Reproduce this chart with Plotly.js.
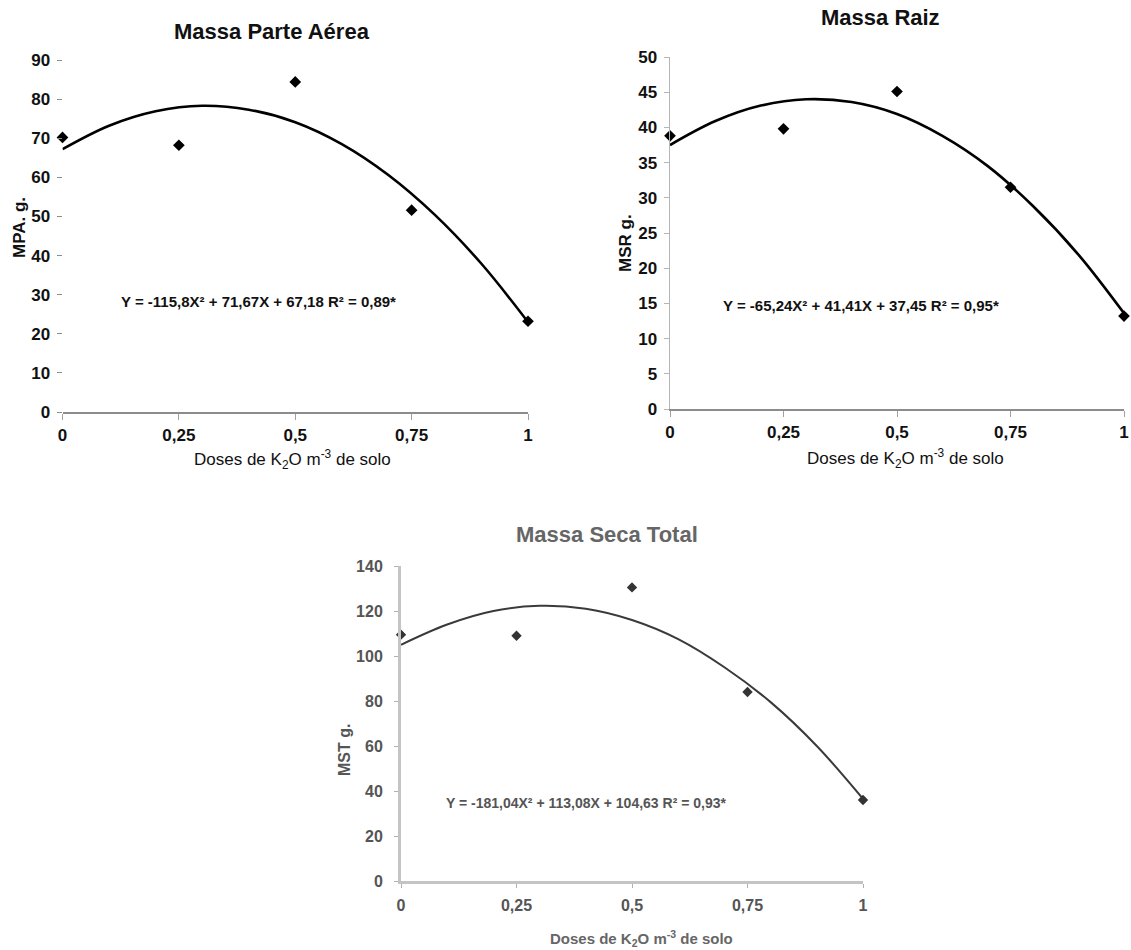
<!DOCTYPE html>
<html>
<head>
<meta charset="utf-8">
<script src="https://cdn.plot.ly/plotly-3.0.1.min.js"></script>
<style>
html,body{margin:0;padding:0;background:#fff;}
#chart{width:1131px;height:950px;}
</style>
</head>
<body>
<div id="chart"></div>
<script>
// ---- data ----
const doses = [0, 0.25, 0.5, 0.75, 1];
const doseTickLabels = ["0", "0,25", "0,5", "0,75", "1"];

// Massa Parte Aérea (MPA, g)
const mpaObserved = [70.2, 68.2, 84.4, 51.6, 23.2];
const curveX = [0, 0.1, 0.2, 0.3, 0.4, 0.5, 0.6, 0.7, 0.8, 0.9, 1];
const mpaCurve = [67.2, 73.2, 76.9, 78.3, 77.3, 74.1, 68.5, 60.6, 50.4, 37.9, 23.0];
const mpaEquation = "Y = -115,8X² + 71,67X + 67,18 R² = 0,89*";

// Massa Raiz (MSR, g)
const msrObserved = [38.8, 39.8, 45.1, 31.5, 13.2];
const msrCurve = [37.5, 40.9, 43.1, 44.0, 43.6, 41.9, 38.8, 34.5, 28.8, 21.9, 13.6];
const msrEquation = "Y = -65,24X² + 41,41X + 37,45 R² = 0,95*";

// Massa Seca Total (MST, g)
const mstObserved = [109.5, 109.0, 130.5, 84.0, 36.0];
const mstCurve = [105.0, 114.0, 120.0, 122.3, 121.0, 116.0, 107.5, 95.0, 79.5, 60.0, 36.5];
const mstEquation = "Y = -181,04X² + 113,08X + 104,63 R² = 0,93*";

const mpaTicks = [0, 10, 20, 30, 40, 50, 60, 70, 80, 90];
const msrTicks = [0, 5, 10, 15, 20, 25, 30, 35, 40, 45, 50];
const mstTicks = [0, 20, 40, 60, 80, 100, 120, 140];

const titles = ["Massa Parte Aérea", "Massa Raiz", "Massa Seca Total"];
const yTitles = ["MPA. g.", "MSR g.", "MST g."];
const xTitle = "Doses de K<sub>2</sub>O m<sup>-3</sup> de solo";

// ---- styling ----
const W = 1131, H = 950;
const FONT = '"Liberation Sans", Arial, sans-serif';
const px = v => v / W;
const py = v => 1 - v / H;

const dark = '#000';

const traces = [
  {x: curveX, y: mpaCurve, mode: 'lines', line: {color: dark, width: 2.6, shape: 'spline'}, xaxis: 'x', yaxis: 'y', cliponaxis: false},
  {x: doses, y: mpaObserved, mode: 'markers', marker: {symbol: 'diamond', size: 9, color: dark}, xaxis: 'x', yaxis: 'y', cliponaxis: false},
  {x: curveX, y: msrCurve, mode: 'lines', line: {color: dark, width: 2.6, shape: 'spline'}, xaxis: 'x2', yaxis: 'y2', cliponaxis: false},
  {x: doses, y: msrObserved, mode: 'markers', marker: {symbol: 'diamond', size: 9, color: dark}, xaxis: 'x2', yaxis: 'y2', cliponaxis: false},
  {x: curveX, y: mstCurve, mode: 'lines', line: {color: '#3a3a3a', width: 2, shape: 'spline'}, xaxis: 'x3', yaxis: 'y3', cliponaxis: false},
  {x: doses, y: mstObserved, mode: 'markers', marker: {symbol: 'diamond', size: 8, color: '#333'}, xaxis: 'x3', yaxis: 'y3', cliponaxis: false}
];

function xAxis(domain, anchor, opts) {
  return Object.assign({
    domain: domain, anchor: anchor, range: [0, 1], fixedrange: true,
    tickmode: 'array', tickvals: doses, ticktext: doseTickLabels,
    showgrid: false, zeroline: false, showline: true,
    linecolor: '#8c8c8c', linewidth: 1.5,
    ticks: 'outside', ticklen: 6, tickcolor: '#a0a0a0', tickwidth: 1,
    tickfont: {family: FONT, size: 17, color: '#111', weight: 'bold'},
    ticklabelstandoff: 1
  }, opts || {});
}
function yAxis(domain, anchor, range, ticks, opts) {
  return Object.assign({
    domain: domain, anchor: anchor, range: range, fixedrange: true,
    tickmode: 'array', tickvals: ticks,
    showgrid: false, zeroline: false, showline: false,
    ticks: 'outside', ticklen: 5, tickcolor: '#8c8c8c', tickwidth: 1,
    tickfont: {family: FONT, size: 17, color: '#111', weight: 'bold'},
    ticklabelstandoff: 3
  }, opts || {});
}

function note(text, x, y, size, color, extra) {
  return Object.assign({
    text: text, xref: 'paper', yref: 'paper', x: px(x), y: py(y),
    xanchor: 'center', yanchor: 'middle', showarrow: false,
    font: {family: FONT, size: size, color: color}
  }, extra || {});
}

const layout = {
  width: W, height: H,
  margin: {l: 0, r: 0, t: 0, b: 0},
  paper_bgcolor: '#fff', plot_bgcolor: 'rgba(0,0,0,0)',
  showlegend: false,
  xaxis: xAxis([px(62.5), px(528)], 'y'),
  yaxis: yAxis([py(412), py(60)], 'x', [0, 90], mpaTicks),
  xaxis2: xAxis([px(670), px(1124)], 'y2'),
  yaxis2: yAxis([py(409), py(57)], 'x2', [0, 50], msrTicks, {showline: true, linecolor: '#b5b5b5', linewidth: 1.5, tickcolor: '#b5b5b5'}),
  xaxis3: xAxis([px(401), px(863)], 'y3', {linecolor: '#c4c4c4', linewidth: 3, tickcolor: '#b0b0b0', ticklen: 4,
    tickfont: {family: FONT, size: 16, color: '#555', weight: 'bold'}, ticklabelstandoff: 4}),
  yaxis3: yAxis([py(881), py(566)], 'x3', [0, 140], mstTicks, {showline: true, linecolor: '#c4c4c4', linewidth: 3, tickcolor: '#b0b0b0', ticklen: 4,
    tickfont: {family: FONT, size: 16, color: '#555', weight: 'bold'}, ticklabelstandoff: 8}),
  annotations: [
    note('<b>' + titles[0] + '</b>', 272, 31, 22, '#111'),
    note('<b>' + titles[1] + '</b>', 880, 18, 22, '#111'),
    note('<b>' + titles[2] + '</b>', 607, 534, 22, '#666'),
    note('<b>' + yTitles[0] + '</b>', 19, 228, 17, '#111', {textangle: -90}),
    note('<b>' + yTitles[1] + '</b>', 625, 243, 17, '#111', {textangle: -90}),
    note('<b>' + yTitles[2] + '</b>', 344, 750, 16, '#555', {textangle: -90}),
    note(xTitle, 292, 459, 17, '#111'),
    note(xTitle, 905, 458, 17, '#111'),
    note('<b>' + xTitle + '</b>', 642, 938, 15, '#666'),
    note('<b>' + mpaEquation + '</b>', 258, 302, 15, '#111'),
    note('<b>' + msrEquation + '</b>', 861, 305, 15, '#111'),
    note('<b>' + mstEquation + '</b>', 586, 803, 14, '#555')
  ]
};

Plotly.newPlot('chart', traces, layout, {displayModeBar: false, staticPlot: true});
</script>
</body>
</html>
